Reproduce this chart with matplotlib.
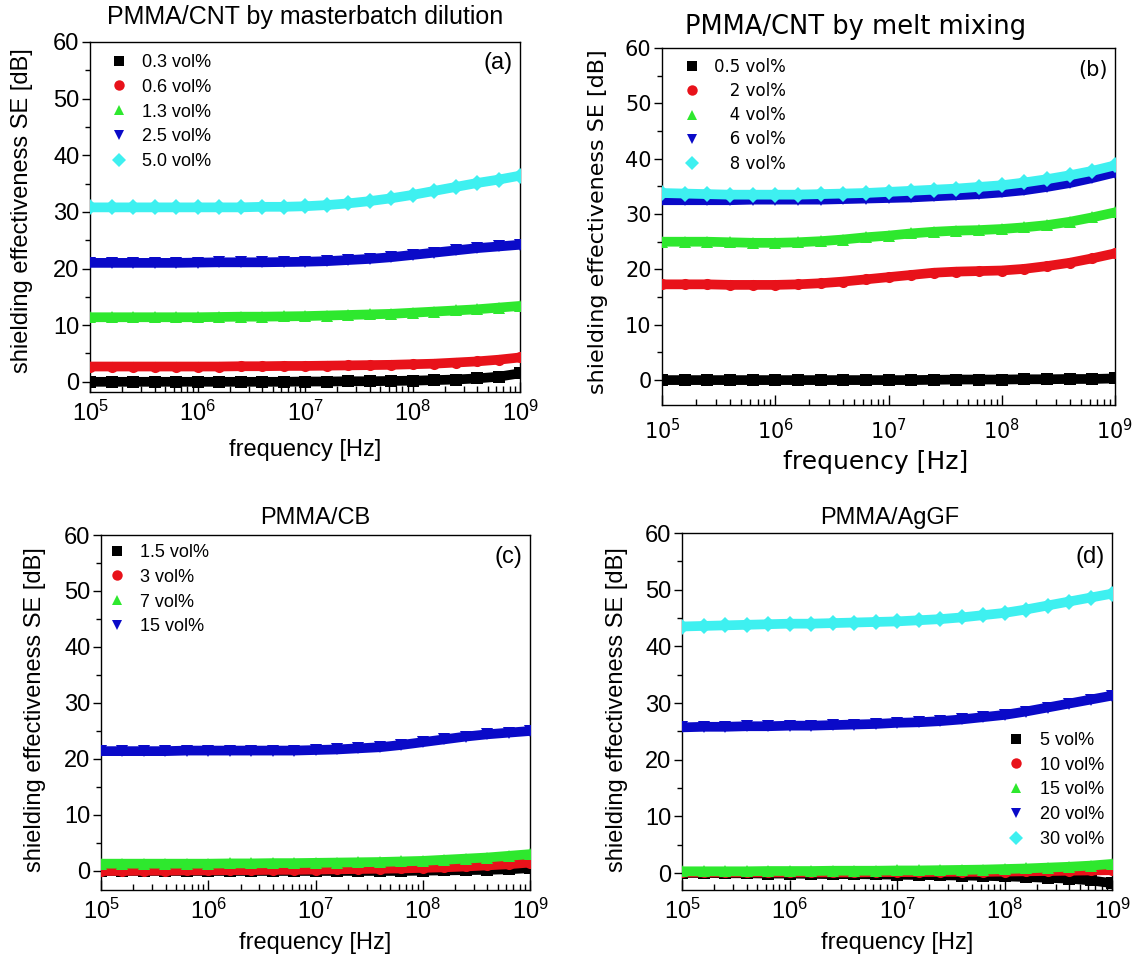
import numpy as np
import matplotlib
matplotlib.use('Agg')
import matplotlib.pyplot as plt
from matplotlib.ticker import LogLocator, FixedLocator, MultipleLocator, FuncFormatter, NullFormatter
from matplotlib.lines import Line2D

plt.rcParams['font.family'] = ['Liberation Sans', 'DejaVu Sans']
plt.rcParams['mathtext.fontset'] = 'custom'
plt.rcParams['mathtext.rm'] = 'Liberation Sans'
plt.rcParams['mathtext.default'] = 'regular'

# log10 of frequency, 0.2 decade steps
log_f = [5.0, 5.2, 5.4, 5.6, 5.8, 6.0, 6.2, 6.4, 6.6, 6.8, 7.0,
         7.2, 7.4, 7.6, 7.8, 8.0, 8.2, 8.4, 8.6, 8.8, 9.0]
freq = 10 ** np.array(log_f)

# (a) PMMA/CNT by masterbatch dilution
a_labels = ['0.3 vol%', '0.6 vol%', '1.3 vol%', '2.5 vol%', '5.0 vol%']
a_03 = [0.0, 0.0, 0.0, 0.0, 0.0, 0.0, 0.0, 0.0, 0.0, 0.0, 0.05, 0.05, 0.1, 0.1, 0.15, 0.2, 0.3, 0.4, 0.6, 0.9, 1.5]
a_06 = [2.7, 2.7, 2.7, 2.7, 2.7, 2.7, 2.7, 2.75, 2.75, 2.8, 2.8, 2.85, 2.9, 2.95, 3.0, 3.1, 3.2, 3.4, 3.6, 3.9, 4.3]
a_13 = [11.4, 11.4, 11.4, 11.4, 11.4, 11.4, 11.45, 11.5, 11.5, 11.55, 11.6, 11.7, 11.8, 11.9, 12.0, 12.2, 12.4, 12.6, 12.8, 13.1, 13.4]
a_25 = [21.0, 21.0, 21.0, 21.0, 21.0, 21.05, 21.1, 21.1, 21.1, 21.15, 21.2, 21.3, 21.5, 21.7, 22.0, 22.4, 22.8, 23.2, 23.6, 23.9, 24.2]
a_50 = [30.8, 30.8, 30.8, 30.8, 30.8, 30.8, 30.8, 30.8, 30.9, 30.9, 31.0, 31.2, 31.5, 31.9, 32.4, 33.0, 33.7, 34.4, 35.1, 35.7, 36.4]

# (b) PMMA/CNT by melt mixing
b_labels = ['0.5 vol%', '   2 vol%', '   4 vol%', '   6 vol%', '   8 vol%']
b_05 = [0.0, 0.0, 0.0, 0.0, 0.0, 0.0, 0.0, 0.0, 0.0, 0.0, 0.0, 0.0, 0.05, 0.1, 0.1, 0.1, 0.15, 0.15, 0.2, 0.2, 0.3]
b_2 = [17.3, 17.3, 17.3, 17.2, 17.2, 17.2, 17.3, 17.5, 17.8, 18.2, 18.6, 19.0, 19.4, 19.6, 19.7, 19.8, 20.1, 20.6, 21.2, 22.0, 22.9]
b_4 = [25.0, 25.0, 25.0, 24.9, 24.8, 24.8, 24.9, 25.1, 25.4, 25.8, 26.1, 26.5, 26.8, 27.0, 27.1, 27.3, 27.6, 28.0, 28.6, 29.4, 30.3]
b_6 = [32.5, 32.5, 32.5, 32.5, 32.6, 32.6, 32.6, 32.6, 32.7, 32.8, 32.9, 33.0, 33.2, 33.4, 33.6, 33.9, 34.3, 34.9, 35.6, 36.5, 37.5]
b_8 = [33.8, 33.7, 33.6, 33.5, 33.5, 33.5, 33.5, 33.6, 33.7, 33.8, 34.0, 34.2, 34.4, 34.6, 34.9, 35.2, 35.7, 36.3, 37.0, 37.8, 38.8]

# (c) PMMA/CB
c_labels = ['1.5 vol%', '3 vol%', '7 vol%', '15 vol%']
c_15 = [0.0, 0.0, 0.0, 0.0, 0.0, 0.0, 0.0, 0.0, 0.0, 0.0, 0.0, 0.0, 0.0, 0.0, 0.0, 0.05, 0.1, 0.15, 0.2, 0.3, 0.5]
c_3 = [0.0, 0.0, 0.05, 0.05, 0.1, 0.1, 0.15, 0.15, 0.2, 0.2, 0.25, 0.3, 0.35, 0.4, 0.45, 0.55, 0.65, 0.8, 1.0, 1.2, 1.5]
c_7 = [1.3, 1.3, 1.3, 1.3, 1.3, 1.3, 1.35, 1.35, 1.4, 1.4, 1.45, 1.5, 1.55, 1.6, 1.7, 1.8, 2.0, 2.2, 2.4, 2.7, 3.0]
c_150 = [21.4, 21.4, 21.4, 21.4, 21.5, 21.5, 21.5, 21.5, 21.5, 21.5, 21.6, 21.7, 21.9, 22.1, 22.5, 23.0, 23.5, 24.0, 24.4, 24.7, 25.0]

# (d) PMMA/AgGF
d_labels = ['5 vol%', '10 vol%', '15 vol%', '20 vol%', '30 vol%']
d_5 = [0.0, 0.0, -0.05, -0.05, -0.1, -0.1, -0.15, -0.2, -0.2, -0.25, -0.3, -0.35, -0.4, -0.45, -0.5, -0.6, -0.7, -0.85, -1.0, -1.3, -1.8]
d_10 = [0.1, 0.1, 0.1, 0.1, 0.1, 0.1, 0.1, 0.1, 0.1, 0.15, 0.15, 0.15, 0.2, 0.2, 0.2, 0.25, 0.3, 0.35, 0.4, 0.45, 0.5]
d_15 = [0.3, 0.3, 0.3, 0.3, 0.35, 0.35, 0.35, 0.4, 0.4, 0.4, 0.45, 0.45, 0.5, 0.55, 0.6, 0.7, 0.8, 0.95, 1.1, 1.3, 1.6]
d_20 = [25.7, 25.8, 25.8, 25.9, 25.9, 26.0, 26.0, 26.1, 26.2, 26.3, 26.5, 26.6, 26.8, 27.1, 27.5, 27.9, 28.5, 29.2, 29.9, 30.6, 31.3]
d_30 = [43.5, 43.6, 43.7, 43.8, 43.9, 44.0, 44.0, 44.1, 44.2, 44.3, 44.4, 44.6, 44.8, 45.1, 45.5, 45.9, 46.5, 47.2, 47.9, 48.6, 49.3]

colors = ['#000000', '#e8121a', '#2ee82e', '#0a0ac8', '#3ef0f0']
markers = ['s', 'o', '^', 'v', 'D']

fig = plt.figure(figsize=(11.46, 9.59), dpi=100)


def fx(px):
    return px / 1146.0


def fy(py):
    return 1 - py / 959.0


def panel(rect, series, labels, ylim, fam, tick_fs, xpad, title, title_xy, title_fs,
          tag, tag_xy, ylab_xy, ylab_fs, xlab_xy, xlab_fs, leg_kw):
    l, t, r, b = rect
    ax = fig.add_axes([fx(l), fy(b), fx(r) - fx(l), fy(t) - fy(b)])
    for i, ys in enumerate(series):
        ax.plot(freq, ys, '-', color=colors[i], lw=7, solid_capstyle='butt', zorder=2 + i)
        ax.plot(freq, ys, markers[i], color=colors[i], ms=8, mew=0, ls='none', zorder=2 + i)
    ax.set_xscale('log')
    ax.set_xlim(1e5, 1e9)
    ax.set_ylim(*ylim)
    ax.xaxis.set_major_locator(FixedLocator([1e5, 1e6, 1e7, 1e8, 1e9]))
    ax.xaxis.set_minor_locator(LogLocator(base=10, subs=np.arange(2, 10), numticks=20))
    ax.xaxis.set_minor_formatter(NullFormatter())
    ax.xaxis.set_major_formatter(FuncFormatter(lambda v, p: r'$10^{%d}$' % round(np.log10(v))))
    ax.yaxis.set_major_locator(MultipleLocator(10))
    ax.yaxis.set_minor_locator(MultipleLocator(5))
    ax.tick_params(axis='x', which='major', direction='in', length=7, width=1, pad=xpad)
    ax.tick_params(axis='x', which='minor', direction='in', length=4, width=1)
    ax.tick_params(axis='y', which='major', direction='out', length=6, width=1, pad=1.5)
    ax.tick_params(axis='y', which='minor', direction='out', length=3.5, width=1)
    for lab in ax.get_xticklabels() + ax.get_yticklabels():
        lab.set_fontfamily(fam)
        lab.set_fontsize(tick_fs)
    for s in ax.spines.values():
        s.set_linewidth(1)
    handles = [Line2D([], [], marker=markers[i], color=colors[i], ls='none', ms=7.5, mew=0)
               for i in range(len(series))]
    ax.legend(handles, labels, frameon=False, borderpad=0, borderaxespad=0,
              handlelength=1.0, handletextpad=0.8,
              bbox_transform=fig.transFigure,
              prop={'family': fam, 'size': leg_kw['size']},
              loc=leg_kw['loc'], bbox_to_anchor=leg_kw['anchor'],
              labelspacing=leg_kw['spacing'])
    fig.text(fx(title_xy[0]), fy(title_xy[1]), title, ha='center', va='center',
             fontsize=title_fs, family=fam)
    fig.text(fx(tag_xy[0]), fy(tag_xy[1]), tag, ha='right', va='center',
             fontsize=tick_fs, family=fam)
    fig.text(fx(ylab_xy[0]), fy(ylab_xy[1]), 'shielding effectiveness SE [dB]',
             rotation=90, ha='center', va='center', fontsize=ylab_fs, family=fam)
    fig.text(fx(xlab_xy[0]), fy(xlab_xy[1]), 'frequency [Hz]',
             ha='center', va='center', fontsize=xlab_fs, family=fam)
    return ax


arial = ['Liberation Sans', 'DejaVu Sans']
dejavu = ['DejaVu Sans']

panel((90, 42, 520, 392), [a_03, a_06, a_13, a_25, a_50], a_labels, (-1.8, 60), arial, 17, 6,
      'PMMA/CNT by masterbatch dilution', (305, 17), 18, '(a)', (513, 63),
      (22, 211), 17, (305, 450), 17,
      dict(size=13, loc='upper left', anchor=(fx(110), fy(54)), spacing=0.43))

panel((662, 48, 1115, 405), [b_05, b_2, b_4, b_6, b_8], b_labels, (-4.5, 60), dejavu, 15, 9,
      'PMMA/CNT by melt mixing', (856, 27), 18.5, '(b)', (1108, 70),
      (598, 222), 16, (876, 462), 18,
      dict(size=12, loc='upper left', anchor=(fx(684), fy(58)), spacing=0.37))

panel((101, 535, 530, 890), [c_15, c_3, c_7, c_150], c_labels, (-3.4, 60), arial, 17, 6,
      'PMMA/CB', (315, 518), 17, '(c)', (522, 557),
      (35, 710), 17, (315, 943), 17,
      dict(size=13, loc='upper left', anchor=(fx(108), fy(544)), spacing=0.43))

panel((682, 533, 1112, 890), [d_5, d_10, d_15, d_20, d_30], d_labels, (-3.0, 60), arial, 17, 6,
      'PMMA/AgGF', (890, 518), 17, '(d)', (1105, 557),
      (617, 710), 17, (897, 943), 17,
      dict(size=13, loc='lower right', anchor=(fx(1104), fy(848)), spacing=0.43))

fig.savefig('out.png', dpi=100)
